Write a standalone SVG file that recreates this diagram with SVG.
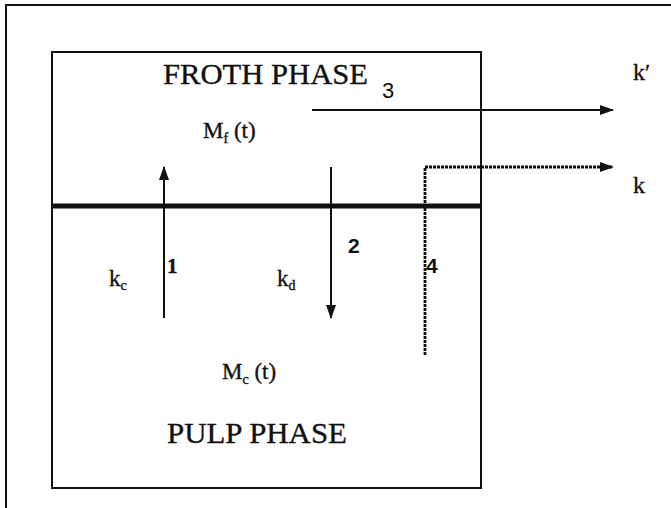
<svg xmlns="http://www.w3.org/2000/svg" width="671" height="508" viewBox="0 0 671 508">
<style>
.serif{font-family:"Liberation Serif","Times New Roman",serif;fill:#111;stroke:#111;stroke-width:0.35}
.sans{font-family:"Liberation Sans",Arial,sans-serif;fill:#111}
.big{font-size:30px}
.mid{font-size:23px}
.num{font-size:21px;font-weight:bold}
.ln{stroke:#111;fill:none}
</style>
<defs>
<marker id="ah" markerWidth="14" markerHeight="10" refX="13" refY="5" orient="auto" markerUnits="userSpaceOnUse">
<path d="M0,0 L14,5 L0,10 Z" fill="#111"/>
</marker>
</defs>
<rect width="671" height="508" fill="#fff"/>
<g id="frame">
<path class="ln" stroke-width="2" d="M6,508 V5 H671"/>
</g>
<g id="froth-phase">
<path class="ln" stroke-width="2" d="M52,206 V52 H481 V206"/>
<text class="serif big" x="163" y="84" textLength="205" lengthAdjust="spacingAndGlyphs">FROTH PHASE</text>
<text class="serif mid" x="203" y="138">M<tspan font-size="14" dy="5">f</tspan><tspan dy="-5"> (t)</tspan></text>
</g>
<g id="pulp-phase">
<path class="ln" stroke-width="2" d="M52,206 V488 H481 V206"/>
<text class="serif big" x="167" y="443" textLength="180" lengthAdjust="spacingAndGlyphs">PULP PHASE</text>
<text class="serif mid" x="222" y="379">M<tspan font-size="14" dy="5">c</tspan><tspan dy="-5"> (t)</tspan></text>
</g>
<g id="interface">
<line class="ln" stroke-width="5" x1="52" y1="206" x2="481" y2="206"/>
</g>
<g id="connectors">
<line class="ln" stroke-width="2" x1="164" y1="318" x2="164" y2="167" marker-end="url(#ah)"/>
<line class="ln" stroke-width="2" x1="331" y1="167" x2="331" y2="318" marker-end="url(#ah)"/>
<line class="ln" stroke-width="2" x1="312" y1="110" x2="613" y2="110" marker-end="url(#ah)"/>
<path class="ln" stroke-width="2.8" stroke-dasharray="3 1" d="M425,355 V167 H613" marker-end="url(#ah)"/>
</g>
<g id="labels">
<text class="serif num" x="167" y="273">1</text>
<text class="sans num" x="348" y="253">2</text>
<text class="sans" font-size="22" x="382" y="98">3</text>
<text class="sans num" x="426" y="273">4</text>
<text class="serif mid" x="109" y="286">k<tspan font-size="14" dy="4">c</tspan></text>
<text class="serif mid" x="277" y="286">k<tspan font-size="14" dy="4">d</tspan></text>
<text class="serif" font-size="24" x="633" y="80">k′</text>
<text class="serif" font-size="24" x="633" y="193">k</text>
</g>
</svg>
